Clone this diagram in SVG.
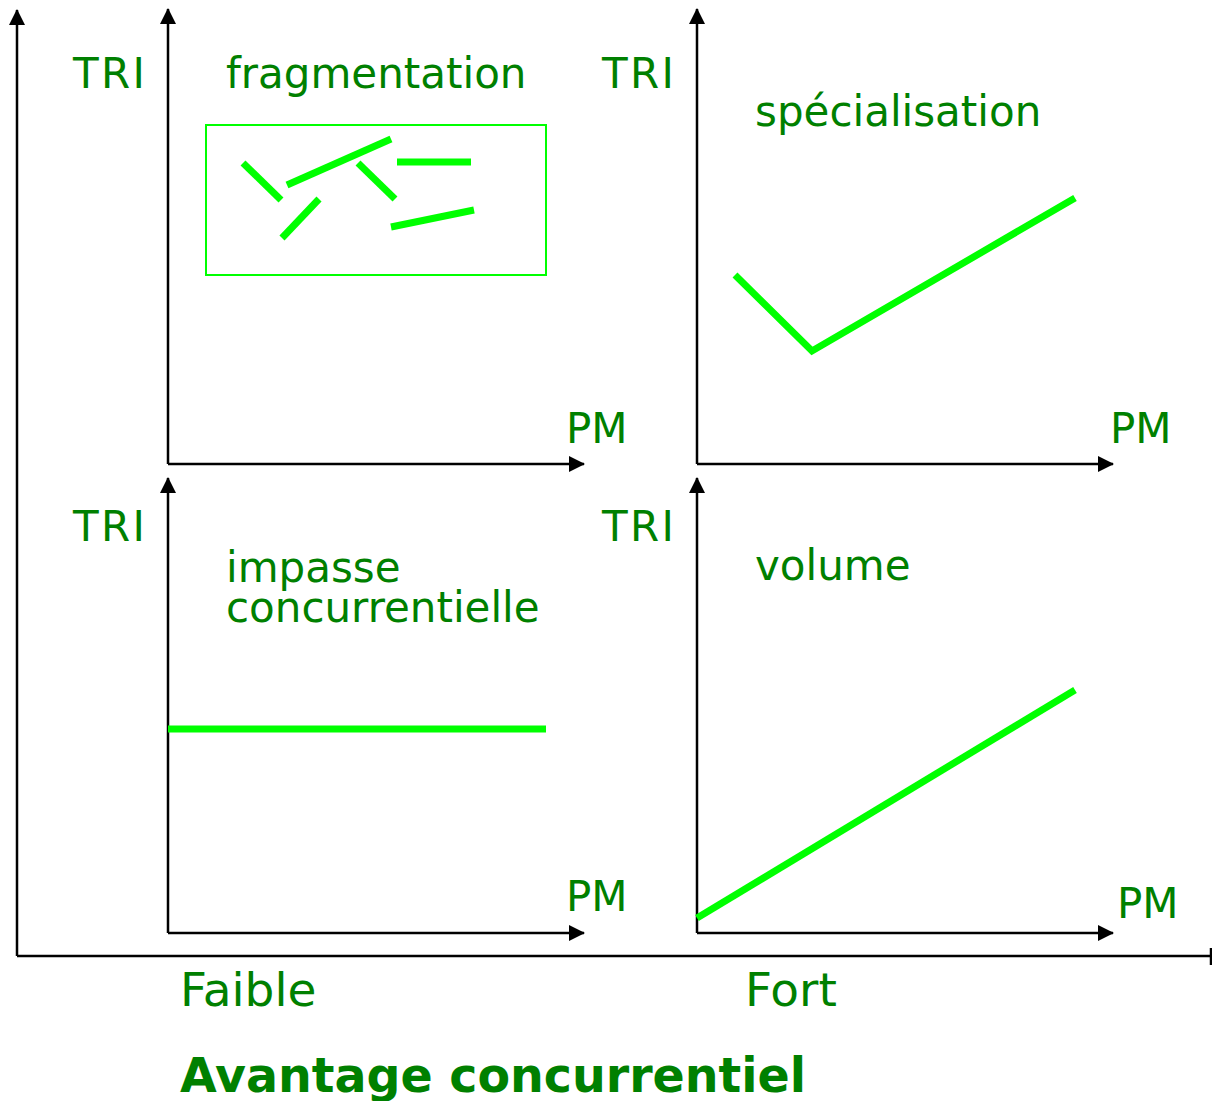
<svg xmlns="http://www.w3.org/2000/svg" width="1212" height="1101" viewBox="0 0 1212 1101">
<style>
.t{font-family:"DejaVu Sans","Verdana",sans-serif;font-size:42px;fill:#008000}
.big{font-size:47px}
.b{font-weight:bold;font-size:48px}
.ax{stroke:#000;stroke-width:2.5;fill:none}
.g{stroke:#00ff00;stroke-width:7;fill:none}
</style>
<defs>
<marker id="ah" markerWidth="16" markerHeight="16" refX="15" refY="8" orient="auto" markerUnits="userSpaceOnUse">
<path d="M0,0 L16,8 L0,16 Z" fill="#000"/>
</marker>
</defs>
<rect width="1212" height="1101" fill="#fff"/>
<g id="connectors">
<path class="ax" d="M17,956 V10" marker-end="url(#ah)"/>
<path class="ax" d="M17,956 H1211 M1211,948 V965"/>
<path class="ax" d="M168,464 V9" marker-end="url(#ah)"/>
<path class="ax" d="M168,464 H584" marker-end="url(#ah)"/>
<path class="ax" d="M697,464 V9" marker-end="url(#ah)"/>
<path class="ax" d="M697,464 H1113" marker-end="url(#ah)"/>
<path class="ax" d="M168,933 V478" marker-end="url(#ah)"/>
<path class="ax" d="M168,933 H584" marker-end="url(#ah)"/>
<path class="ax" d="M697,933 V478" marker-end="url(#ah)"/>
<path class="ax" d="M697,933 H1113" marker-end="url(#ah)"/>
</g>
<g id="fragmentation">
<text class="t" x="73" y="88" textLength="72">TRI</text>
<text class="t" x="226" y="88">fragmentation</text>
<rect x="206" y="125" width="340" height="150" fill="none" stroke="#00ff00" stroke-width="2"/>
<line class="g" x1="243" y1="163" x2="281" y2="200"/>
<line class="g" x1="287" y1="185" x2="391" y2="139"/>
<line class="g" x1="397" y1="162" x2="471" y2="162"/>
<line class="g" x1="358" y1="163" x2="395" y2="199"/>
<line class="g" x1="282" y1="238" x2="319" y2="199"/>
<line class="g" x1="391" y1="227" x2="474" y2="210"/>
<text class="t" x="566" y="443">PM</text>
</g>
<g id="specialisation">
<text class="t" x="602" y="88" textLength="72">TRI</text>
<text class="t" x="755" y="126">spécialisation</text>
<polyline class="g" stroke-width="6" points="735,275 812,351 1075,198"/>
<text class="t" x="1110" y="443">PM</text>
</g>
<g id="impasse">
<text class="t" x="73" y="541" textLength="72">TRI</text>
<text class="t" x="226" y="582">impasse</text>
<text class="t" x="226" y="622">concurrentielle</text>
<line class="g" stroke-width="6" x1="168" y1="729" x2="546" y2="729"/>
<text class="t" x="566" y="911">PM</text>
</g>
<g id="volume">
<text class="t" x="602" y="541" textLength="72">TRI</text>
<text class="t" x="755" y="580">volume</text>
<line class="g" stroke-width="6" x1="697" y1="918" x2="1075" y2="690"/>
<text class="t" x="1117" y="918">PM</text>
</g>
<g id="labels">
<text class="t big" x="180" y="1006">Faible</text>
<text class="t big" x="745" y="1006">Fort</text>
<text class="t b" x="180" y="1092" textLength="626" lengthAdjust="spacingAndGlyphs">Avantage concurrentiel</text>
</g>
</svg>
